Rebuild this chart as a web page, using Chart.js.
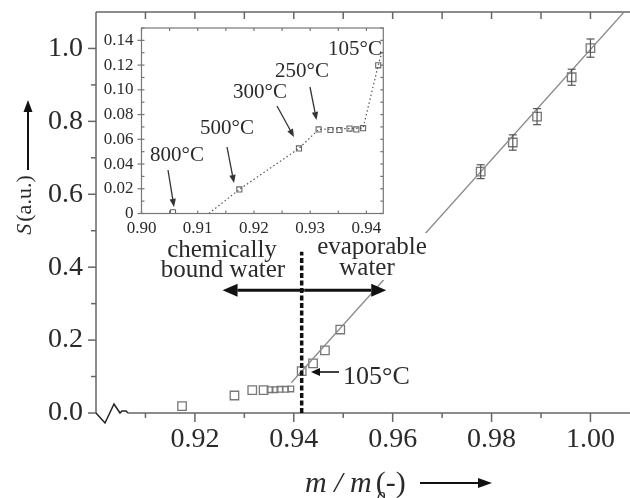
<!DOCTYPE html>
<html>
<head>
<meta charset="utf-8">
<script src="https://cdn.jsdelivr.net/npm/chart.js@4.4.1/dist/chart.umd.min.js"></script>
<style>
  html, body { margin: 0; padding: 0; background: #fff; }
  #wrap { position: relative; width: 630px; height: 498px; overflow: hidden; }
  #main { position: absolute; left: 0; top: 0; }
  #inset { position: absolute; left: 98px; top: 20px; }
</style>
</head>
<body>
<div id="wrap">
  <canvas id="main" width="630" height="498"></canvas>
  <canvas id="inset" width="292" height="222"></canvas>
</div>
<script>
const SERIF = '"Liberation Serif", "Times New Roman", serif';
const INK = '#2a2a2a';
const AXIS = '#666';
const MARK = '#777';

// main plot: S against m/m0
const mainX = [0.9174, 0.9280, 0.9316, 0.9339, 0.9352, 0.9362, 0.9372, 0.9383, 0.9394, 0.9416, 0.9439, 0.9463, 0.9494, 0.9778, 0.9843, 0.9892, 0.9962, 1.0000];
const mainY = [0.019, 0.048, 0.063, 0.063, 0.064, 0.064, 0.065, 0.065, 0.066, 0.115, 0.136, 0.172, 0.229, 0.662, 0.742, 0.813, 0.921, 1.001];
const mainErr = [0, 0, 0, 0, 0, 0, 0, 0, 0, 0, 0, 0, 0, 0.019, 0.021, 0.022, 0.022, 0.025];
// linear fit through the evaporable-water points
const fitX = [0.9395, 1.0068];
const fitY = [0.083, 1.1];
const xTicks = [0.92, 0.94, 0.96, 0.98, 1.00];
const yTicks = [0, 0.2, 0.4, 0.6, 0.8, 1.0];

// boundary between chemically bound and evaporable water
const boundaryX = 0.9416;
const boundaryTop = 0.442;
const splitArrowY = 0.337;
const splitArrowX = [0.9256, 0.9587];

// inset: low range zoom
const insetX = [0.9056, 0.9174, 0.9280, 0.9315, 0.9336, 0.9352, 0.9370, 0.9382, 0.9394, 0.9421];
const insetY = [0.001, 0.0195, 0.0526, 0.068, 0.0675, 0.0675, 0.0687, 0.068, 0.069, 0.1198];
const insetFitX = [0.9120, 0.9174, 0.9280, 0.9315, 0.9394, 0.9421, 0.9428];
const insetFitY = [0, 0.0195, 0.0526, 0.068, 0.069, 0.1198, 0.131];
const insetXTicks = [0.90, 0.91, 0.92, 0.93, 0.94];
const insetYTicks = [0, 0.02, 0.04, 0.06, 0.08, 0.10, 0.12, 0.14];
const insetTemps = ['800°C', '500°C', '300°C', '250°C', '105°C'];

const pts = (xs, ys) => xs.map((v, i) => ({ x: v, y: ys[i] }));
const noPad = s => { s.paddingLeft = 0; s.paddingRight = 0; s.paddingTop = 0; s.paddingBottom = 0; };

function seg(ctx, x1, y1, x2, y2) {
  ctx.beginPath();
  ctx.moveTo(x1, y1);
  ctx.lineTo(x2, y2);
  ctx.stroke();
}

function arrow(ctx, x1, y1, x2, y2, len, half) {
  const ang = Math.atan2(y2 - y1, x2 - x1);
  const bx = x2 - len * Math.cos(ang), by = y2 - len * Math.sin(ang);
  seg(ctx, x1, y1, bx, by);
  ctx.beginPath();
  ctx.moveTo(x2, y2);
  ctx.lineTo(bx + half * Math.sin(ang), by - half * Math.cos(ang));
  ctx.lineTo(bx - half * Math.sin(ang), by + half * Math.cos(ang));
  ctx.closePath();
  ctx.fill();
}

function text(ctx, str, cx, cy, size) {
  ctx.font = size + 'px ' + SERIF;
  ctx.fillStyle = INK;
  ctx.textAlign = 'center';
  ctx.textBaseline = 'middle';
  ctx.fillText(str, cx, cy);
}

const mainDecor = {
  id: 'mainDecor',
  beforeDatasetsDraw(chart) {
    const { ctx, chartArea: a, scales: { x, y } } = chart;
    ctx.save();
    ctx.strokeStyle = AXIS;
    ctx.lineWidth = 1.5;
    seg(ctx, a.left, a.bottom, a.left, a.top);
    seg(ctx, a.left, a.top, a.right, a.top);
    const breakEnd = a.left + 32;
    seg(ctx, breakEnd, a.bottom, a.right, a.bottom);
    for (let k = 0; k <= 10; k++) {
      const py = y.getPixelForValue(k / 10);
      seg(ctx, a.left - (k % 2 === 0 ? 8 : 5), py, a.left, py);
    }
    for (let k = 91; k <= 100; k++) {
      const px = x.getPixelForValue(k / 100);
      seg(ctx, px, a.bottom, px, a.bottom + (k % 2 === 0 ? 9 : 5));
      seg(ctx, px, a.top, px, a.top + 7);
    }
    // axis break
    ctx.strokeStyle = '#222';
    ctx.beginPath();
    ctx.moveTo(a.left, a.bottom);
    ctx.lineTo(a.left + 9, a.bottom + 10);
    ctx.lineTo(a.left + 18, a.bottom - 9);
    ctx.lineTo(a.left + 24, a.bottom);
    ctx.lineTo(a.left + 26, a.bottom - 2);
    ctx.lineTo(a.left + 30, a.bottom - 2);
    ctx.lineTo(breakEnd, a.bottom);
    ctx.stroke();
    ctx.restore();
  },
  afterDatasetsDraw(chart) {
    const { ctx, scales: { x, y } } = chart;
    ctx.save();
    // error bars
    ctx.strokeStyle = '#555';
    ctx.lineWidth = 1.2;
    mainErr.forEach((e, i) => {
      if (!e) return;
      const px = x.getPixelForValue(mainX[i]);
      const t = y.getPixelForValue(mainY[i] + e), b = y.getPixelForValue(mainY[i] - e);
      seg(ctx, px, t, px, b);
      seg(ctx, px - 4, t, px + 4, t);
      seg(ctx, px - 4, b, px + 4, b);
    });

    // labels; the evaporable block hides the fit line behind it
    ctx.fillStyle = '#fff';
    ctx.fillRect(318, 233, 110, 47);
    text(ctx, 'chemically', 222, 250, 25);
    text(ctx, 'bound water', 223, 270, 25);
    text(ctx, 'evaporable', 372, 247, 25);
    text(ctx, 'water', 367, 268, 25);

    // double arrow
    ctx.strokeStyle = '#111';
    ctx.fillStyle = '#111';
    ctx.lineWidth = 3;
    const ay = y.getPixelForValue(splitArrowY);
    const ax1 = x.getPixelForValue(splitArrowX[0]), ax2 = x.getPixelForValue(splitArrowX[1]);
    const mid = (ax1 + ax2) / 2;
    arrow(ctx, mid, ay, ax1, ay, 15, 6.5);
    arrow(ctx, mid, ay, ax2, ay, 15, 6.5);

    // boundary
    const bx = x.getPixelForValue(boundaryX);
    ctx.lineWidth = 3.5;
    ctx.setLineDash([5, 2.5]);
    seg(ctx, bx, y.getPixelForValue(0), bx, y.getPixelForValue(boundaryTop));
    ctx.setLineDash([]);

    // 105 °C pointer
    ctx.lineWidth = 1.6;
    arrow(ctx, 339, 372, 311, 372, 9, 4);
    ctx.font = '26px ' + SERIF;
    ctx.fillStyle = INK;
    ctx.textAlign = 'left';
    ctx.textBaseline = 'middle';
    ctx.fillText('105°C', 343, 377);

    // y title
    ctx.save();
    ctx.translate(25, 205);
    ctx.rotate(-Math.PI / 2);
    ctx.font = 'italic 22px ' + SERIF;
    const sW = ctx.measureText('S').width;
    ctx.font = '22px ' + SERIF;
    const rW = ctx.measureText('(a.u.)').width;
    const x0 = -(sW + rW + 2) / 2;
    ctx.textAlign = 'left';
    ctx.font = 'italic 22px ' + SERIF;
    ctx.fillText('S', x0, 0);
    ctx.font = '22px ' + SERIF;
    ctx.fillText('(a.u.)', x0 + sW + 2, 0);
    ctx.restore();
    ctx.strokeStyle = '#111';
    ctx.fillStyle = '#111';
    ctx.lineWidth = 2;
    arrow(ctx, 28, 170, 28, 100, 12, 4.5);

    // x title
    ctx.fillStyle = INK;
    ctx.textAlign = 'left';
    ctx.textBaseline = 'alphabetic';
    ctx.font = 'italic 30px ' + SERIF;
    ctx.fillText('m / m', 305, 492);
    const mW = ctx.measureText('m / m').width;
    ctx.font = 'italic 17px ' + SERIF;
    ctx.fillText('0', 305 + mW + 5, 503);
    ctx.font = '30px ' + SERIF;
    ctx.fillText('(-)', 305 + mW + 4, 492);
    ctx.strokeStyle = '#111';
    ctx.fillStyle = '#111';
    ctx.lineWidth = 2;
    arrow(ctx, 420, 483, 492, 483, 14, 5);
    ctx.restore();
  }
};

new Chart(document.getElementById('main'), {
  type: 'scatter',
  data: {
    datasets: [{
      data: pts(fitX, fitY),
      showLine: true,
      borderColor: '#8a8a8a',
      borderWidth: 1.3,
      pointRadius: 0
    }, {
      data: pts(mainX, mainY),
      pointStyle: 'rect',
      pointRadius: c => { const v = mainX[c.dataIndex]; return v > 0.935 && v < 0.9405 ? 4 : 6; },
      borderColor: MARK,
      borderWidth: 1.3,
      backgroundColor: 'rgba(0,0,0,0)'
    }]
  },
  options: {
    responsive: false,
    animation: false,
    layout: { autoPadding: false, padding: { top: 12, right: 0, left: 0, bottom: 0 } },
    plugins: { legend: { display: false }, tooltip: { enabled: false } },
    scales: {
      x: {
        type: 'linear', min: 0.90, max: 1.008,
        afterBuildTicks: s => { s.ticks = xTicks.map(v => ({ value: v })); },
        afterFit: s => { s.height = 85; noPad(s); },
        grid: { display: false, drawTicks: false },
        border: { display: false },
        ticks: { font: { family: SERIF, size: 28 }, color: INK, padding: 10, maxRotation: 0, autoSkip: false, callback: v => v.toFixed(2) }
      },
      y: {
        type: 'linear', min: 0, max: 1.1,
        afterBuildTicks: s => { s.ticks = yTicks.map(v => ({ value: v })); },
        afterFit: s => { s.width = 96; noPad(s); },
        grid: { display: false, drawTicks: false },
        border: { display: false },
        ticks: { font: { family: SERIF, size: 28 }, color: INK, padding: 13, callback: v => v.toFixed(1) }
      }
    }
  },
  plugins: [mainDecor]
});

// inset decorations; label positions given in page coordinates
const OFF = { x: 98, y: 20 };
const insetDecor = {
  id: 'insetDecor',
  beforeDatasetsDraw(chart) {
    const { ctx, chartArea: a, scales: { x, y } } = chart;
    ctx.save();
    ctx.strokeStyle = '#777';
    ctx.lineWidth = 1.2;
    ctx.strokeRect(a.left, a.top, a.width, a.height);
    for (let k = 0; k <= 8; k++) {
      const px = x.getPixelForValue(0.90 + k * 0.005);
      seg(ctx, px, a.bottom, px, a.bottom - 3);
      seg(ctx, px, a.top, px, a.top + 3);
    }
    for (let k = 0; k <= 15; k++) {
      const py = y.getPixelForValue(k / 100);
      if (k % 2 === 0) seg(ctx, a.left - 4, py, a.left, py);
      seg(ctx, a.left, py, a.left + 3, py);
      seg(ctx, a.right - 3, py, a.right, py);
    }
    ctx.restore();
  },
  afterDatasetsDraw(chart) {
    const { ctx } = chart;
    ctx.save();
    ctx.translate(-OFF.x, -OFF.y);
    ctx.font = '21px ' + SERIF;
    ctx.fillStyle = INK;
    ctx.textAlign = 'left';
    ctx.textBaseline = 'middle';
    const spots = [[150, 155], [200, 128], [233, 92], [275, 71], [328, 49]];
    insetTemps.forEach((t, i) => ctx.fillText(t, spots[i][0], spots[i][1]));
    ctx.strokeStyle = '#333';
    ctx.fillStyle = '#333';
    ctx.lineWidth = 1.3;
    arrow(ctx, 168, 170, 174, 207, 8, 3.2);
    arrow(ctx, 227, 147, 234, 183, 8, 3.2);
    arrow(ctx, 277, 106, 294, 137, 8, 3.2);
    arrow(ctx, 310, 87, 316.5, 120, 8, 3.2);
    ctx.restore();
  }
};

new Chart(document.getElementById('inset'), {
  type: 'scatter',
  data: {
    datasets: [{
      data: pts(insetFitX, insetFitY),
      showLine: true,
      borderColor: '#555',
      borderWidth: 1.2,
      borderDash: [1.5, 2.5],
      pointRadius: 0
    }, {
      data: pts(insetX, insetY),
      pointStyle: 'rect',
      pointRadius: 3.6,
      borderColor: '#666',
      borderWidth: 1.1,
      backgroundColor: 'rgba(0,0,0,0)'
    }]
  },
  options: {
    responsive: false,
    animation: false,
    layout: { autoPadding: false, padding: { top: 8, right: 6.7, left: 0, bottom: 0 } },
    plugins: { legend: { display: false }, tooltip: { enabled: false } },
    scales: {
      x: {
        type: 'linear', min: 0.90, max: 0.943,
        afterBuildTicks: s => { s.ticks = insetXTicks.map(v => ({ value: v })); },
        afterFit: s => { s.height = 28.5; noPad(s); },
        grid: { display: false, drawTicks: false },
        border: { display: false },
        ticks: { font: { family: SERIF, size: 17 }, color: INK, padding: 5, maxRotation: 0, autoSkip: false, callback: v => v.toFixed(2) }
      },
      y: {
        type: 'linear', min: 0, max: 0.15,
        afterBuildTicks: s => { s.ticks = insetYTicks.map(v => ({ value: v })); },
        afterFit: s => { s.width = 43.5; noPad(s); },
        grid: { display: false, drawTicks: false },
        border: { display: false },
        ticks: { font: { family: SERIF, size: 17 }, color: INK, padding: 8, callback: v => v === 0 ? '0' : v.toFixed(2) }
      }
    }
  },
  plugins: [insetDecor]
});
</script>
</body>
</html>
